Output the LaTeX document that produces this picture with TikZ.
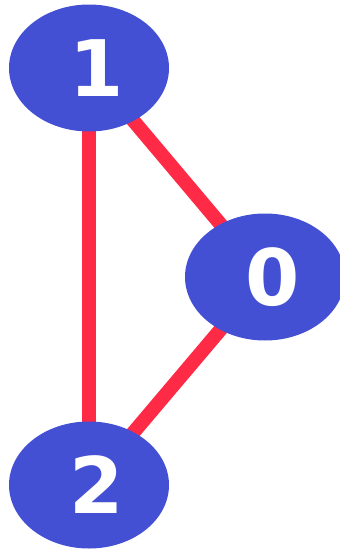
\documentclass[tikz,border=0pt]{standalone}
\usepackage{fontspec}
\setmainfont{DejaVu Sans}
\usetikzlibrary{shapes.geometric}
\definecolor{vertexblue}{HTML}{4350D4}
\definecolor{edgered}{HTML}{FF2A45}
\pgfdeclarelayer{back}
\pgfsetlayers{back,main}
\tikzset{
  vertex/.style={ellipse, fill=vertexblue, minimum width=160pt,
    minimum height=127pt, inner sep=0pt},
  digit/.style={text=white, font=\fontsize{78}{78}\selectfont\bfseries,
    xshift=8pt},
  edge/.style={draw=edgered, line width=14pt}
}
\begin{document}
\begin{tikzpicture}[x=1pt, y=-1pt]
  \useasboundingbox (0,0) rectangle (340,549);
  % vertices
  \node[vertex, label={[digit]center:1}] (v1) at (89,68) {};
  \node[vertex, label={[digit]center:0}] (v0) at (265,277) {};
  \node[vertex, label={[digit]center:2}] (v2) at (89,485) {};
  % edges behind the vertices
  \begin{pgfonlayer}{back}
    \draw[edge] (v1.center) -- (v2.center);
    \draw[edge] (v1.center) -- (v0.center);
    \draw[edge] (v2.center) -- (v0.center);
  \end{pgfonlayer}
\end{tikzpicture}
\end{document}
